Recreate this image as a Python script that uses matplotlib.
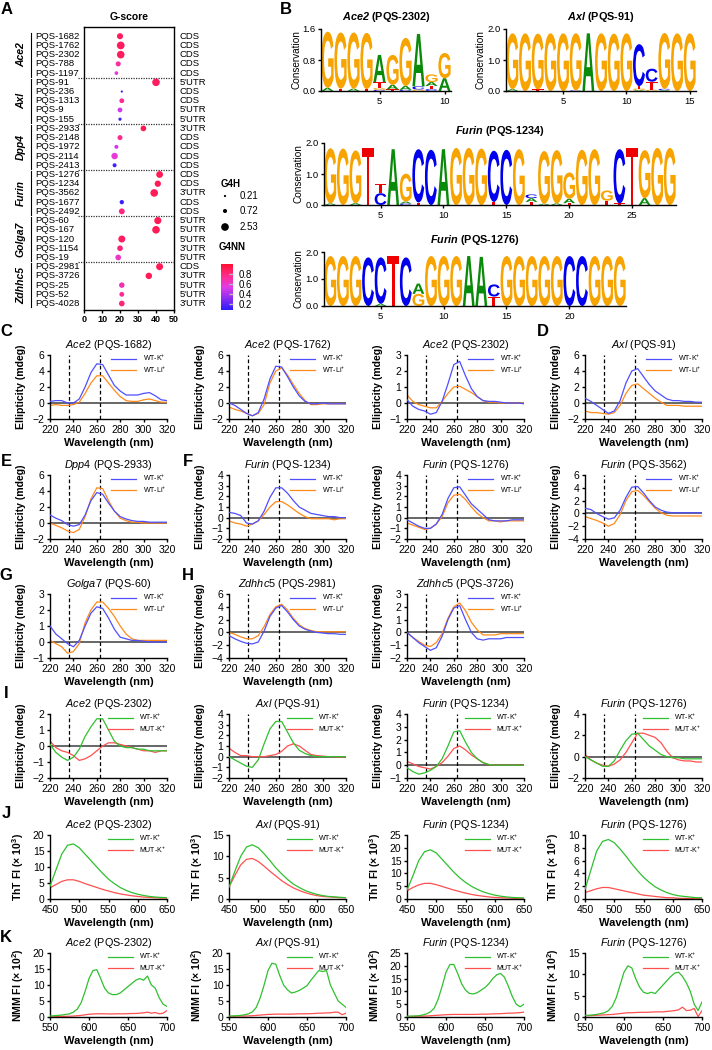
import matplotlib
matplotlib.use("Agg")
import matplotlib.pyplot as plt
import matplotlib.transforms as mtransforms
import numpy as np
from matplotlib.cm import ScalarMappable
from matplotlib.colors import LinearSegmentedColormap, Normalize
from matplotlib.font_manager import FontProperties
from matplotlib.patches import PathPatch
from matplotlib.textpath import TextPath

plt.rcParams.update({
    "font.family": ["Liberation Sans", "DejaVu Sans"],
    "mathtext.fontset": "custom",
    "mathtext.rm": "Liberation Sans",
    "mathtext.it": "Liberation Sans:italic",
    "mathtext.bf": "Liberation Sans:bold",
    "mathtext.bfit": "Liberation Sans:italic:bold",
    "axes.linewidth": 1.0,
    "xtick.major.width": 1.0,
    "ytick.major.width": 1.0,
    "xtick.major.size": 2.5,
    "ytick.major.size": 2.5,
    "xtick.major.pad": 1.5,
    "ytick.major.pad": 1.5,
    "xtick.labelsize": 7.5,
    "ytick.labelsize": 7.5,
})

# ---------------- panel A data ----------------
A_GENES = ["Ace2", "Axl", "Dpp4", "Furin", "Golga7", "Zdhhc5"]
A_PQS = ["PQS-1682", "PQS-1762", "PQS-2302", "PQS-788", "PQS-1197",
         "PQS-91", "PQS-236", "PQS-1313", "PQS-9", "PQS-155",
         "PQS-2933", "PQS-2148", "PQS-1972", "PQS-2114", "PQS-2413",
         "PQS-1276", "PQS-1234", "PQS-3562", "PQS-1677", "PQS-2492",
         "PQS-60", "PQS-167", "PQS-120", "PQS-1154", "PQS-19",
         "PQS-2981", "PQS-3726", "PQS-25", "PQS-52", "PQS-4028"]
A_REGION = ["CDS", "CDS", "CDS", "CDS", "CDS",
            "5'UTR", "CDS", "CDS", "5'UTR", "5'UTR",
            "3'UTR", "CDS", "CDS", "CDS", "CDS",
            "CDS", "CDS", "3'UTR", "CDS", "CDS",
            "5'UTR", "5'UTR", "5'UTR", "3'UTR", "5'UTR",
            "CDS", "3'UTR", "5'UTR", "5'UTR", "3'UTR"]
A_GSCORE = [20, 20.4, 20.4, 19, 18,
            40, 21, 21, 20, 20,
            33, 20, 18, 17, 17,
            42, 41, 39, 21, 21,
            41, 40, 21, 20, 19,
            42, 36, 21, 21, 21]
A_G4H = [1.6, 2.6, 2.5, 1.1, 0.6,
         2.5, 0.21, 1.0, 1.0, 0.45,
         1.4, 1.1, 0.7, 1.8, 0.7,
         2.0, 1.7, 2.5, 0.8, 1.5,
         2.2, 2.5, 2.1, 1.4, 1.4,
         2.1, 1.8, 1.3, 1.0, 1.4]
A_G4NN = [0.88, 0.88, 0.88, 0.72, 0.55,
          0.88, 0.12, 0.75, 0.5, 0.12,
          0.9, 0.75, 0.5, 0.58, 0.15,
          0.9, 0.9, 0.9, 0.12, 0.8,
          0.9, 0.9, 0.88, 0.82, 0.62,
          0.9, 0.9, 0.68, 0.75, 0.82]
G4H_LEGEND = [0.21, 0.72, 2.53]
G4NN_TICKS = [0.2, 0.4, 0.6, 0.8]

# ---------------- panel B data (bottom -> top per position) ----------------
LOGO_ACE2_2302 = [
    [("A", .08), ("G", 1.45)], [("T", .06), ("G", 1.45)], [("A", .06), ("G", 1.45)],
    [("T", .05), ("G", 1.45)], [("C", .03), ("G", .05), ("T", .15), ("A", .7)],
    [("T", .04), ("A", .12), ("G", .77)], [("C", .03), ("A", .1), ("G", 1.24)],
    [("G", .04), ("C", .08), ("A", 1.35)], [("C", .05), ("T", .08), ("A", .1), ("G", .2)],
    [("A", .33), ("G", .65)],
]
LOGO_AXL_91 = [
    [("A", .06), ("G", 1.8)], [("G", 1.86)], [("T", .05), ("G", 1.8)], [("G", 1.86)],
    [("G", 1.86)], [("C", .02), ("G", 1.84)], [("A", 1.86)], [("G", 1.86)],
    [("G", 1.85)], [("G", 1.86)], [("A", .03), ("G", .05), ("T", .08), ("C", 1.35)],
    [("G", .04), ("T", .26), ("C", .42)], [("A", .03), ("C", .04), ("G", 1.8)],
    [("G", 1.86)], [("G", 1.86)],
]
LOGO_FURIN_1234 = [
    [("A", .05), ("G", 1.78)], [("G", 1.82)], [("A", .06), ("G", 1.7)], [("T", 1.85)],
    [("C", .38), ("T", .30)], [("A", 1.8)], [("C", .05), ("A", .06), ("G", .9)],
    [("T", .08), ("C", 1.72)], [("C", 1.78)], [("A", 1.8)], [("G", 1.84)],
    [("G", 1.84)], [("G", 1.82)], [("T", .1), ("C", 1.65)], [("C", 1.78)],
    [("G", 1.8)], [("T", .1), ("A", .12), ("C", .12)], [("A", .04), ("G", 1.7)],
    [("A", .05), ("G", 1.72)], [("T", .06), ("A", .14), ("G", .85)], [("G", 1.78)],
    [("G", 1.8)], [("T", .14), ("G", .33)], [("T", .05), ("C", 1.75)], [("T", 1.85)],
    [("A", .22), ("G", 1.55)], [("G", 1.84)], [("G", 1.84)],
]
LOGO_FURIN_1276 = [
    [("G", 1.85)], [("G", 1.85)], [("G", 1.85)], [("C", 1.8)], [("A", .08), ("C", 1.72)],
    [("T", 1.85)], [("C", 1.8)], [("G", .45), ("A", .38)], [("G", 1.85)], [("G", 1.85)],
    [("G", 1.85)], [("A", 1.85)], [("A", 1.82)], [("T", .35), ("C", .45)], [("G", 1.85)],
    [("G", 1.85)], [("G", 1.85)], [("G", 1.85)], [("G", 1.85)], [("C", 1.85)],
    [("C", 1.85)], [("G", 1.85)], [("G", 1.85)], [("G", 1.85)],
]
LETTER_COLORS = {"G": "#f7a300", "A": "#0a8a0a", "C": "#0000ee", "T": "#ee0000"}

# ---------------- CD spectra (mdeg), 220-320 nm ----------------
CD_WL = [220, 225, 230, 235, 240, 245, 250, 255, 260, 265, 270,
         275, 280, 285, 290, 295, 300, 305, 310, 315, 320]
ACE2_1682_K = [0.2, 0.3, 0.3, 0.0, 0.0, 0.5, 2.0, 3.8, 4.9, 4.8, 3.5, 2.2, 1.5, 1.0, 1.0, 1.0, 1.2, 1.3, 0.9, 0.4, 0.3]
ACE2_1682_LI = [-0.3, -0.2, -0.3, -0.3, -0.2, 0.1, 1.2, 2.5, 3.4, 3.4, 2.5, 1.6, 0.8, 0.3, 0.2, 0.2, 0.4, 0.5, 0.3, 0.1, 0.1]
ACE2_1762_K = [0.0, -0.3, -0.8, -1.3, -1.6, -1.2, 0.5, 3.0, 4.6, 4.5, 3.3, 2.0, 0.9, 0.2, -0.1, -0.1, 0.0, -0.1, -0.1, -0.1, -0.1]
ACE2_1762_LI = [-0.5, -0.8, -1.0, -1.3, -1.6, -1.3, -0.2, 2.5, 4.0, 4.4, 3.5, 2.3, 1.2, 0.3, -0.2, -0.2, -0.1, -0.1, -0.1, -0.1, -0.1]
ACE2_2302_K = [0.2, -0.2, -0.4, -0.5, -0.7, -0.6, 0.1, 1.2, 2.4, 2.6, 1.7, 0.9, 0.4, 0.15, 0.1, 0.1, 0.05, 0.0, 0.0, 0.0, -0.05]
ACE2_2302_LI = [0.5, 0.1, -0.1, -0.2, -0.3, -0.3, 0.1, 0.6, 1.0, 1.05, 0.85, 0.65, 0.4, 0.15, 0.05, 0.05, 0.0, 0.0, 0.0, 0.0, 0.0]
AXL_91_K = [0.6, 0.2, -0.3, -0.8, -1.3, -1.0, 0.3, 2.5, 4.0, 4.3, 3.3, 2.3, 1.5, 1.0, 0.5, 0.3, 0.3, 0.2, 0.2, 0.1, 0.1]
AXL_91_LI = [-1.0, -1.2, -1.2, -1.3, -1.4, -1.2, -0.3, 1.2, 2.2, 2.4, 1.8, 1.2, 0.6, 0.1, -0.3, -0.3, -0.3, -0.4, -0.4, -0.4, -0.4]
DPP4_2933_K = [1.0, 0.6, 0.3, -0.2, -0.4, -0.2, 1.0, 2.8, 3.8, 3.6, 2.5, 1.5, 0.8, 0.5, 0.3, 0.2, 0.2, 0.1, 0.1, 0.1, 0.1]
DPP4_2933_LI = [0.0, -0.3, -0.6, -1.0, -1.2, -0.8, 0.8, 3.0, 4.4, 4.3, 2.8, 1.5, 0.6, 0.3, 0.1, 0.1, 0.0, 0.0, 0.0, 0.0, 0.0]
FURIN_1234_K = [0.5, 0.4, 0.2, -0.5, -0.6, -0.3, 0.6, 1.9, 2.8, 2.8, 2.3, 1.6, 1.0, 0.7, 0.4, 0.3, 0.2, 0.1, 0.1, 0.0, 0.0]
FURIN_1234_LI = [-0.3, -0.5, -0.6, -0.8, -0.6, -0.3, 0.3, 1.0, 1.5, 1.5, 1.2, 0.8, 0.4, 0.1, -0.1, -0.1, -0.1, -0.1, -0.2, -0.1, -0.1]
FURIN_1276_K = [-0.2, -0.5, -0.8, -1.0, -1.0, -0.6, 0.3, 1.8, 2.8, 2.9, 2.1, 1.3, 0.8, 0.3, -0.2, -0.3, -0.3, -0.3, -0.2, -0.2, -0.2]
FURIN_1276_LI = [-0.5, -0.7, -0.9, -1.1, -1.0, -0.6, 0.1, 1.4, 2.1, 2.2, 1.7, 1.0, 0.4, 0.0, -0.3, -0.3, -0.4, -0.3, -0.3, -0.3, -0.3]
FURIN_3562_K = [0.8, 0.6, 0.0, -0.5, -0.9, -0.7, 0.5, 2.5, 4.1, 4.2, 3.2, 2.0, 1.0, 0.5, 0.2, 0.1, 0.1, 0.1, 0.1, 0.1, 0.1]
FURIN_3562_LI = [-0.5, -0.8, -1.1, -1.5, -2.0, -1.6, -0.2, 2.0, 3.4, 3.6, 2.8, 1.8, 0.8, 0.1, -0.3, -0.4, -0.4, -0.4, -0.4, -0.4, -0.4]
GOLGA7_60_K = [1.0, 0.5, 0.2, -0.1, -0.3, 0.1, 1.0, 1.8, 2.2, 2.1, 1.5, 0.8, 0.3, 0.2, 0.1, 0.1, 0.05, 0.0, 0.0, 0.0, 0.0]
GOLGA7_60_LI = [0.1, -0.1, -0.3, -0.7, -0.6, -0.1, 1.2, 2.0, 2.5, 2.5, 2.1, 1.6, 1.0, 0.5, 0.2, 0.1, 0.1, 0.1, 0.1, 0.1, 0.1]
ZDHHC5_2981_K = [-0.5, -1.0, -1.4, -1.7, -1.8, -1.5, 0.2, 2.5, 3.8, 4.2, 3.2, 2.0, 1.0, 0.5, 0.2, 0.0, -0.1, -0.2, -0.2, -0.3, -0.3]
ZDHHC5_2981_LI = [0.0, -0.3, -0.7, -1.0, -1.0, -0.5, 0.9, 2.8, 4.0, 4.4, 3.5, 2.2, 1.2, 0.6, 0.3, 0.1, 0.1, 0.1, 0.1, 0.1, 0.1]
ZDHHC5_3726_K = [0.0, -0.4, -0.8, -1.1, -1.4, -1.2, -0.3, 1.0, 1.9, 2.1, 1.0, 0.0, -0.5, -0.6, -0.5, -0.5, -0.5, -0.4, -0.4, -0.4, -0.4]
ZDHHC5_3726_LI = [0.0, -0.4, -0.7, -1.0, -1.1, -0.8, -0.1, 1.1, 2.0, 2.3, 1.7, 0.8, 0.2, -0.2, -0.2, -0.2, -0.1, -0.1, -0.1, -0.1, -0.1]

# WT vs MUT (K+) CD
I_ACE2_WT = [0.1, -0.4, -0.7, -0.9, -0.7, -0.2, 0.6, 1.2, 1.7, 1.7, 1.0, 0.3, 0.0, -0.1, -0.1, -0.2, -0.2, -0.3, -0.3, -0.3, -0.3]
I_ACE2_MUT = [0.3, -0.1, -0.3, -0.4, -0.6, -0.9, -0.8, -0.6, -0.3, 0.0, 0.2, 0.2, 0.1, 0.0, -0.1, -0.2, -0.3, -0.3, -0.4, -0.3, -0.3]
I_AXL_WT = [0.0, -0.3, -0.6, -0.9, -1.0, -0.3, 1.2, 2.6, 3.3, 3.3, 2.3, 1.3, 0.6, 0.3, 0.1, 0.0, 0.0, 0.0, 0.0, 0.0, 0.0]
I_AXL_MUT = [0.8, 0.4, 0.1, 0.1, 0.0, 0.0, 0.0, 0.1, 0.2, 0.5, 1.0, 1.2, 1.0, 0.6, 0.2, 0.1, 0.05, 0.0, 0.0, -0.05, 0.0]
I_F1234_WT = [-0.2, -0.5, -0.7, -0.6, -0.4, -0.1, 0.5, 1.5, 2.6, 2.7, 1.8, 1.0, 0.5, 0.2, 0.05, 0.0, 0.0, 0.0, 0.0, 0.0, 0.0]
I_F1234_MUT = [0.3, 0.1, -0.1, -0.2, -0.3, -0.1, 0.2, 0.7, 1.3, 1.5, 1.2, 0.8, 0.5, 0.2, 0.05, 0.0, 0.0, 0.0, 0.0, 0.0, 0.0]
I_F1276_WT = [0.0, -0.3, -0.6, -0.9, -0.9, -0.4, 0.6, 1.5, 2.1, 2.2, 1.6, 1.0, 0.6, 0.2, 0.0, -0.1, -0.1, -0.2, -0.2, -0.2, -0.2]
I_F1276_MUT = [0.2, -0.3, -0.6, -0.8, -0.9, -0.7, -0.3, 0.4, 1.3, 2.2, 2.2, 2.0, 1.8, 1.3, 0.5, -0.1, -0.3, -0.4, -0.4, -0.5, -0.5]

# ThT fluorescence (x 10^3), 450-650 nm
THT_WL = [450, 460, 470, 480, 490, 500, 510, 520, 530, 540, 550,
          560, 570, 580, 590, 600, 610, 620, 630, 640, 650]
J_ACE2_WT = [4.0, 9.0, 14.0, 16.8, 17.2, 16.0, 14.0, 12.0, 10.0, 8.0, 6.2, 4.8, 3.6, 2.7, 2.0, 1.5, 1.1, 0.8, 0.6, 0.5, 0.4]
J_ACE2_MUT = [3.5, 4.5, 5.5, 6.0, 6.0, 5.5, 4.8, 4.2, 3.6, 3.0, 2.5, 2.0, 1.6, 1.3, 1.0, 0.8, 0.6, 0.5, 0.4, 0.3, 0.3]
J_AXL_WT = [2.8, 6.5, 10.0, 12.2, 12.7, 12.0, 10.6, 9.0, 7.3, 5.9, 4.6, 3.5, 2.7, 2.0, 1.5, 1.1, 0.8, 0.6, 0.5, 0.4, 0.3]
J_AXL_MUT = [2.8, 5.5, 8.0, 9.3, 9.5, 8.8, 7.7, 6.5, 5.4, 4.3, 3.4, 2.6, 2.0, 1.5, 1.1, 0.8, 0.6, 0.5, 0.4, 0.3, 0.3]
J_F1234_WT = [3.5, 9.0, 15.0, 18.5, 19.2, 18.0, 15.5, 13.0, 10.5, 8.3, 6.5, 5.0, 3.8, 2.8, 2.1, 1.5, 1.1, 0.8, 0.6, 0.5, 0.4]
J_F1234_MUT = [3.2, 4.5, 5.5, 6.1, 6.1, 5.6, 4.9, 4.2, 3.5, 2.9, 2.3, 1.8, 1.4, 1.1, 0.8, 0.6, 0.5, 0.4, 0.3, 0.2, 0.2]
J_F1276_WT = [1.5, 4.5, 7.5, 9.0, 9.3, 8.8, 7.8, 6.7, 5.5, 4.4, 3.4, 2.6, 1.9, 1.4, 1.0, 0.7, 0.5, 0.4, 0.3, 0.2, 0.2]
J_F1276_MUT = [1.0, 1.3, 1.6, 1.8, 1.8, 1.6, 1.4, 1.2, 1.0, 0.8, 0.6, 0.5, 0.4, 0.3, 0.2, 0.2, 0.1, 0.1, 0.1, 0.1, 0.1]

# NMM fluorescence (x 10^2), 550-700 nm
NMM_WL = [550, 555, 560, 565, 570, 575, 580, 585, 590, 595, 600, 605, 610, 615, 620, 625,
          630, 635, 640, 645, 650, 655, 660, 665, 670, 675, 680, 685, 690, 695, 700]
K_ACE2_WT = [0.3, 0.4, 0.5, 0.6, 0.8, 1.0, 1.5, 2.5, 4.5, 8.0, 12.0, 14.5, 14.8, 12.0, 9.0, 7.5,
             7.0, 7.0, 7.5, 8.5, 9.5, 10.5, 11.5, 12.0, 11.5, 12.8, 10.0, 9.0, 6.0, 4.0, 3.3]
K_ACE2_MUT = [0.1, 0.1, 0.15, 0.2, 0.2, 0.25, 0.3, 0.4, 0.5, 0.7, 0.85, 0.95, 1.0, 1.0, 1.0, 0.95,
              0.95, 1.0, 1.0, 1.0, 1.05, 1.1, 1.1, 1.2, 1.3, 1.5, 1.2, 1.4, 1.0, 1.2, 2.0]
K_AXL_WT = [0.3, 0.35, 0.4, 0.5, 0.7, 1.0, 1.6, 3.0, 6.0, 10.0, 14.5, 16.8, 16.5, 13.0, 10.0, 8.5,
            7.5, 7.8, 8.3, 9.0, 9.8, 11.5, 13.0, 14.5, 14.2, 14.5, 10.0, 7.5, 5.0, 4.0, 3.0]
K_AXL_MUT = [0.2, 0.2, 0.25, 0.3, 0.3, 0.35, 0.4, 0.5, 0.6, 0.7, 0.8, 0.85, 0.9, 0.9, 0.9, 0.9,
             0.9, 0.95, 1.0, 1.0, 1.0, 1.05, 1.1, 1.2, 1.2, 1.3, 1.3, 1.5, 1.5, 0.7, 1.2]
K_F1234_WT = [0.3, 0.35, 0.4, 0.5, 0.8, 1.2, 2.0, 3.5, 7.0, 12.0, 17.5, 20.5, 20.5, 17.0, 13.0, 10.5,
              9.2, 9.0, 9.5, 10.5, 11.5, 13.0, 15.0, 16.5, 17.0, 15.5, 12.0, 8.0, 5.0, 4.0, 5.0]
K_F1234_MUT = [0.2, 0.2, 0.25, 0.3, 0.35, 0.4, 0.5, 0.6, 0.7, 0.8, 0.9, 0.95, 1.0, 1.0, 1.0, 1.0,
               1.0, 1.0, 1.05, 1.1, 1.1, 1.15, 1.2, 1.25, 1.3, 1.4, 1.5, 1.5, 1.6, 1.7, 1.9]
K_F1276_WT = [0.4, 0.4, 0.5, 0.6, 0.8, 1.0, 1.5, 2.5, 4.5, 7.5, 10.5, 12.0, 11.5, 9.0, 7.0, 5.8,
              5.5, 5.8, 5.5, 6.5, 7.5, 8.5, 9.5, 10.3, 10.5, 9.5, 8.0, 6.0, 3.0, 1.5, 3.5]
K_F1276_MUT = [0.3, 0.3, 0.35, 0.4, 0.45, 0.5, 0.55, 0.6, 0.7, 0.8, 0.9, 1.0, 1.0, 1.05, 1.1, 1.1,
               1.1, 1.15, 1.2, 1.2, 1.2, 1.3, 1.4, 1.5, 1.7, 2.3, 1.5, 1.6, 2.0, 0.1, 1.5]

CD_LABELS = ["WT-K$^{+}$", "WT-Li$^{+}$"]
MUT_LABELS = ["WT-K$^{+}$", "MUT-K$^{+}$"]
CD_COLORS = ["#4f4fff", "#ff8a1c"]
MUT_COLORS = ["#2fc02f", "#ff5050"]

# ---------------- layout helpers ----------------
W, H = 712, 1050
fig = plt.figure(figsize=(W / 100, H / 100), dpi=100)
COL_X = [50, 229, 407, 585]
PANEL_W, PANEL_H = 117, 64


def px_axes(x0, x1, y0, y1):
    return fig.add_axes([x0 / W, 1 - y1 / H, (x1 - x0) / W, (y1 - y0) / H])


def title_text(gene, pqs):
    return rf"$\mathit{{{gene}}}$ ({pqs})"


def spectrum(col, top, xs, ya, yb, labels, colors, gene, pqs, ylim, yticks,
             xlim, xticks, ylabel, cd=True):
    x0 = COL_X[col]
    ax = px_axes(x0, x0 + PANEL_W, top, top + PANEL_H)
    if cd:
        ax.axhline(0, color="#4d4d4d", lw=1.2, zorder=1)
        for wl in (236, 263):
            ax.axvline(wl, color="k", lw=0.9, ls=(0, (3, 2)), zorder=1)
    ax.plot(xs, ya, color=colors[0], lw=0.9, label=labels[0], zorder=3)
    ax.plot(xs, yb, color=colors[1], lw=0.9, label=labels[1], zorder=2)
    ax.set_xlim(*xlim)
    ax.set_ylim(*ylim)
    ax.set_xticks(xticks)
    ax.set_yticks(yticks)
    ax.spines[["top", "right"]].set_visible(False)
    ax.set_xlabel("Wavelength (nm)", fontsize=8, fontweight="bold")
    ax.xaxis.set_label_coords(0.5, -19 / PANEL_H)
    ax.set_ylabel(ylabel, fontsize=7.6, fontweight="bold")
    ax.yaxis.set_label_coords(-24 / PANEL_W, 0.5)
    ax.text(0.5, 1 + 3 / PANEL_H, title_text(gene, pqs), transform=ax.transAxes,
            ha="center", va="bottom", fontsize=7.8)
    ax.legend(loc="upper right", bbox_to_anchor=(1.0, 1.04), frameon=False,
              fontsize=5, handlelength=3.6, handletextpad=1.0, labelspacing=0.15,
              borderpad=0.1, borderaxespad=0)
    return ax


LOGO_FONT = FontProperties(family="Liberation Sans", weight="bold")


def draw_letter(ax, ch, x, y, w, h):
    tp = TextPath((0, 0), ch, size=1, prop=LOGO_FONT)
    bb = tp.get_extents()
    tr = (mtransforms.Affine2D().translate(-bb.x0, -bb.y0)
          .scale(w / bb.width, h / bb.height).translate(x - w / 2, y))
    ax.add_patch(PathPatch(tr.transform_path(tp), fc=LETTER_COLORS[ch], ec="none", lw=0))


def logo(x0, x1, y0, y1, columns, ymax, yticks, xticks, gene, pqs):
    ax = px_axes(x0, x1, y0, y1)
    for i, stack in enumerate(columns, start=1):
        base = 0.0
        for ch, h in stack:
            draw_letter(ax, ch, i, base, 0.94, h)
            base += h
    ax.set_xlim(0.5, len(columns) + 0.5)
    ax.set_ylim(0, ymax)
    ax.set_xticks(xticks)
    ax.set_yticks(yticks)
    ax.set_yticklabels([f"{t:.1f}" for t in yticks])
    ax.tick_params(labelsize=6.8)
    ax.spines[["top", "right"]].set_visible(False)
    ax.set_ylabel("Conservation", fontsize=7.2)
    ax.yaxis.set_label_coords(-20 / (x1 - x0), 0.5)
    ax.text(0.5, 1 + 5 / (y1 - y0), rf"$\mathbfit{{{gene}}}$ ({pqs})", transform=ax.transAxes,
            ha="center", va="bottom", fontsize=7.8, fontweight="bold")
    return ax


# ---------------- panel A ----------------
G4NN_CMAP = LinearSegmentedColormap.from_list(
    "g4nn", ["#2a1cff", "#8a2cf0", "#e03ce6", "#ff2a8a", "#ff1030"])
G4NN_NORM = Normalize(0.08, 1.0)

axA = px_axes(84, 174, 27, 310)
rows = np.arange(len(A_PQS))
axA.scatter(A_GSCORE, rows, s=np.array(A_G4H) * 12, c=A_G4NN, cmap=G4NN_CMAP,
            norm=G4NN_NORM, edgecolors="none", zorder=3)
axA.set_xlim(0, 50)
axA.set_ylim(29.7, -1.0)
axA.set_yticks([])
axA.set_xticks([0, 10, 20, 30, 40, 50])
axA.tick_params(axis="x", labelsize=6.5, pad=1.5, length=2)
for lab in axA.get_xticklabels():
    lab.set_fontweight("bold")
trA = mtransforms.blended_transform_factory(fig.transFigure, axA.transData)
for r, (name, region) in enumerate(zip(A_PQS, A_REGION)):
    axA.text(35 / W, r, name, transform=trA, fontsize=6.8, ha="left", va="center")
    axA.text(180 / W, r, region, transform=trA, fontsize=6.8, ha="left", va="center")
for g, gene in enumerate(A_GENES):
    r0, r1 = 5 * g, 5 * g + 4
    axA.text(21 / W, (r0 + r1) / 2, gene, transform=trA, rotation=90, fontsize=7.5,
             fontstyle="italic", fontweight="bold", ha="center", va="center")
    axA.plot([31 / W, 31 / W], [r0 - 0.4, r1 + 0.4], transform=trA, color="k",
             lw=0.8, clip_on=False)
    if g:
        axA.plot([78 / W, 174 / W], [r0 - 0.5, r0 - 0.5], transform=trA, color="#333333",
                 lw=0.9, ls=(0, (1, 1)), clip_on=False)
fig.text(129 / W, 1 - 17 / H, "G-score", fontsize=7.5, fontweight="bold",
         ha="center", va="center")

cax = px_axes(221, 233, 264, 310)
cb = fig.colorbar(ScalarMappable(norm=G4NN_NORM, cmap=G4NN_CMAP), cax=cax)
cb.outline.set_visible(False)
cb.set_ticks(G4NN_TICKS)
cb.ax.tick_params(direction="in", length=3, color="#bbbbbb", labelsize=7, pad=4)

# ---------------- panel B ----------------
logo(321, 451, 29, 91, LOGO_ACE2_2302, 1.6, [0, 0.8, 1.6], [5, 10], "Ace2", "PQS-2302")
logo(506, 696, 29, 91, LOGO_AXL_91, 2.0, [0, 1.0, 2.0], [5, 10, 15], "Axl", "PQS-91")
logo(324, 676, 143, 205, LOGO_FURIN_1234, 2.0, [0, 1.0, 2.0], [5, 10, 15, 20, 25],
     "Furin", "PQS-1234")
logo(324, 626, 252, 306, LOGO_FURIN_1276, 2.0, [0, 1.0, 2.0], [5, 10, 15, 20],
     "Furin", "PQS-1276")

# ---------------- panels C-H ----------------
CD_X = dict(xlim=(220, 320), xticks=[220, 240, 260, 280, 300, 320], ylabel="Ellipticity (mdeg)")
Y62 = dict(ylim=(-2, 6), yticks=[-2, 0, 2, 4, 6])
Y31 = dict(ylim=(-1, 3), yticks=[-1, 0, 1, 2, 3])
Y42 = dict(ylim=(-2, 4), yticks=[-2, -1, 0, 1, 2, 3, 4])
Y64 = dict(ylim=(-4, 6), yticks=[-4, -2, 0, 2, 4, 6])

spectrum(0, 355, CD_WL, ACE2_1682_K, ACE2_1682_LI, CD_LABELS, CD_COLORS, "Ace2", "PQS-1682", **Y62, **CD_X)
spectrum(1, 355, CD_WL, ACE2_1762_K, ACE2_1762_LI, CD_LABELS, CD_COLORS, "Ace2", "PQS-1762", **Y62, **CD_X)
spectrum(2, 355, CD_WL, ACE2_2302_K, ACE2_2302_LI, CD_LABELS, CD_COLORS, "Ace2", "PQS-2302", **Y31, **CD_X)
spectrum(3, 355, CD_WL, AXL_91_K, AXL_91_LI, CD_LABELS, CD_COLORS, "Axl", "PQS-91", **Y62, **CD_X)

spectrum(0, 475, CD_WL, DPP4_2933_K, DPP4_2933_LI, CD_LABELS, CD_COLORS, "Dpp4", "PQS-2933", **Y62, **CD_X)
spectrum(1, 475, CD_WL, FURIN_1234_K, FURIN_1234_LI, CD_LABELS, CD_COLORS, "Furin", "PQS-1234", **Y42, **CD_X)
spectrum(2, 475, CD_WL, FURIN_1276_K, FURIN_1276_LI, CD_LABELS, CD_COLORS, "Furin", "PQS-1276", **Y42, **CD_X)
spectrum(3, 475, CD_WL, FURIN_3562_K, FURIN_3562_LI, CD_LABELS, CD_COLORS, "Furin", "PQS-3562", **Y64, **CD_X)

spectrum(0, 594, CD_WL, GOLGA7_60_K, GOLGA7_60_LI, CD_LABELS, CD_COLORS, "Golga7", "PQS-60", **Y31, **CD_X)
spectrum(1, 594, CD_WL, ZDHHC5_2981_K, ZDHHC5_2981_LI, CD_LABELS, CD_COLORS, "Zdhhc5", "PQS-2981", **Y64, **CD_X)
spectrum(2, 594, CD_WL, ZDHHC5_3726_K, ZDHHC5_3726_LI, CD_LABELS, CD_COLORS, "Zdhhc5", "PQS-3726",
         ylim=(-2, 3), yticks=[-2, -1, 0, 1, 2, 3], **CD_X)

# ---------------- panel I ----------------
spectrum(0, 714, CD_WL, I_ACE2_WT, I_ACE2_MUT, MUT_LABELS, MUT_COLORS, "Ace2", "PQS-2302",
         ylim=(-2, 2), yticks=[-2, -1, 0, 1, 2], **CD_X)
spectrum(1, 714, CD_WL, I_AXL_WT, I_AXL_MUT, MUT_LABELS, MUT_COLORS, "Axl", "PQS-91", **Y42, **CD_X)
spectrum(2, 714, CD_WL, I_F1234_WT, I_F1234_MUT, MUT_LABELS, MUT_COLORS, "Furin", "PQS-1234",
         ylim=(-1, 4), yticks=[-1, 0, 1, 2, 3, 4], **CD_X)
spectrum(3, 714, CD_WL, I_F1276_WT, I_F1276_MUT, MUT_LABELS, MUT_COLORS, "Furin", "PQS-1276",
         ylim=(-2, 4), yticks=[-2, 0, 2, 4], **CD_X)

# ---------------- panel J ----------------
THT_X = dict(xlim=(450, 650), xticks=[450, 500, 550, 600, 650],
             ylabel=r"ThT FI (× 10$^{\mathbf{3}}$)", cd=False)
spectrum(0, 835, THT_WL, J_ACE2_WT, J_ACE2_MUT, MUT_LABELS, MUT_COLORS, "Ace2", "PQS-2302",
         ylim=(0, 20), yticks=[0, 5, 10, 15, 20], **THT_X)
spectrum(1, 835, THT_WL, J_AXL_WT, J_AXL_MUT, MUT_LABELS, MUT_COLORS, "Axl", "PQS-91",
         ylim=(0, 15), yticks=[0, 5, 10, 15], **THT_X)
spectrum(2, 835, THT_WL, J_F1234_WT, J_F1234_MUT, MUT_LABELS, MUT_COLORS, "Furin", "PQS-1234",
         ylim=(0, 25), yticks=[0, 5, 10, 15, 20, 25], **THT_X)
spectrum(3, 835, THT_WL, J_F1276_WT, J_F1276_MUT, MUT_LABELS, MUT_COLORS, "Furin", "PQS-1276",
         ylim=(0, 10), yticks=[0, 2, 4, 6, 8, 10], **THT_X)

# ---------------- panel K ----------------
NMM_X = dict(xlim=(550, 700), xticks=[550, 600, 650, 700],
             ylabel=r"NMM FI (× 10$^{\mathbf{2}}$)", cd=False)
spectrum(0, 953, NMM_WL, K_ACE2_WT, K_ACE2_MUT, MUT_LABELS, MUT_COLORS, "Ace2", "PQS-2302",
         ylim=(0, 20), yticks=[0, 5, 10, 15, 20], **NMM_X)
spectrum(1, 953, NMM_WL, K_AXL_WT, K_AXL_MUT, MUT_LABELS, MUT_COLORS, "Axl", "PQS-91",
         ylim=(0, 20), yticks=[0, 5, 10, 15, 20], **NMM_X)
spectrum(2, 953, NMM_WL, K_F1234_WT, K_F1234_MUT, MUT_LABELS, MUT_COLORS, "Furin", "PQS-1234",
         ylim=(0, 25), yticks=[0, 5, 10, 15, 20, 25], **NMM_X)
spectrum(3, 953, NMM_WL, K_F1276_WT, K_F1276_MUT, MUT_LABELS, MUT_COLORS, "Furin", "PQS-1276",
         ylim=(0, 15), yticks=[0, 5, 10, 15], **NMM_X)

# ---------------- overlay: panel letters and A legend ----------------
axO = fig.add_axes([0, 0, 1, 1], zorder=10)
axO.set_xlim(0, W)
axO.set_ylim(H, 0)
axO.set_axis_off()
axO.patch.set_alpha(0)
for letter, x, y in [("A", 7, 10), ("B", 286, 10), ("C", 6, 332), ("D", 543, 332),
                     ("E", 6, 462), ("F", 188, 462), ("G", 6, 575), ("H", 188, 575),
                     ("I", 6, 693), ("J", 6, 813), ("K", 6, 937)]:
    axO.text(x, y, letter, fontsize=12, fontweight="bold", ha="center", va="center")

axO.text(221, 184, "G4H", fontsize=7, fontweight="bold", ha="left", va="center")
for val, y in zip(G4H_LEGEND, [196, 211, 227]):
    axO.scatter([225], [y], s=val * 12, color="k", edgecolors="none")
    axO.text(240, y, f"{val:.2f}", fontsize=7, ha="left", va="center")
axO.text(219, 247, "G4NN", fontsize=7, fontweight="bold", ha="left", va="center")

fig.savefig("out.png", dpi=100)
